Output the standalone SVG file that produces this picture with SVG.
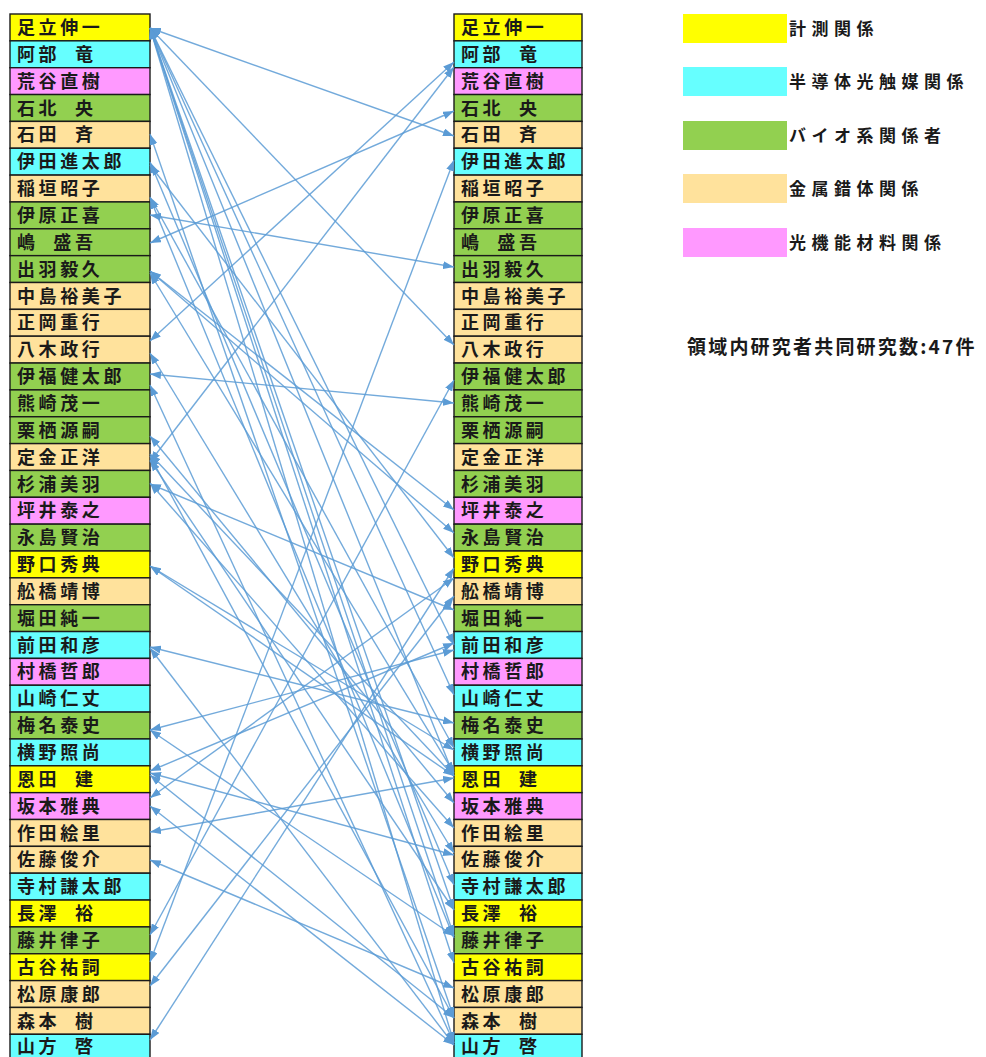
<svg xmlns="http://www.w3.org/2000/svg" width="986" height="1057" viewBox="0 0 986 1057">
<defs>
<style>
.row{stroke:#1a1a1a;stroke-width:1.4}
.y{fill:#FFFF00}.c{fill:#66FFFF}.p{fill:#FF99FF}.g{fill:#92D050}.o{fill:#FFE29C}
.nm{font-family:"Noto Sans CJK JP","Noto Sans CJK SC",sans-serif;font-size:18px;font-weight:bold;letter-spacing:3.6px;word-spacing:7px;fill:#1a1a1a}
.lg{font-family:"Noto Sans CJK JP","Noto Sans CJK SC",sans-serif;font-size:17px;font-weight:bold;letter-spacing:5.5px;fill:#1a1a1a}
.sm{font-family:"Noto Sans CJK JP","Noto Sans CJK SC",sans-serif;font-size:19px;font-weight:bold;letter-spacing:2.2px;fill:#1a1a1a}
.cn line{stroke:#5B9BD5;stroke-width:1.4;stroke-opacity:0.85;marker-start:url(#ah);marker-end:url(#ah)}
</style>
<marker id="ah" markerUnits="userSpaceOnUse" markerWidth="11" markerHeight="8" refX="11" refY="4" orient="auto-start-reverse"><path d="M0,0 L11,4 L0,8 z" fill="#5B9BD5"/></marker>
</defs>
<rect width="986" height="1057" fill="#fff"/>

<g id="left-column">
<g id="L01"><rect class="row y" x="10" y="14" width="140" height="26.85"/><text class="nm" x="17" y="34">足立伸一</text></g>
<g id="L02"><rect class="row c" x="10" y="40.85" width="140" height="26.85"/><text class="nm" x="17" y="60.9">阿部 竜</text></g>
<g id="L03"><rect class="row p" x="10" y="67.7" width="140" height="26.85"/><text class="nm" x="17" y="87.7">荒谷直樹</text></g>
<g id="L04"><rect class="row g" x="10" y="94.55" width="140" height="26.85"/><text class="nm" x="17" y="114.6">石北 央</text></g>
<g id="L05"><rect class="row o" x="10" y="121.4" width="140" height="26.85"/><text class="nm" x="17" y="141.4">石田 斉</text></g>
<g id="L06"><rect class="row c" x="10" y="148.25" width="140" height="26.85"/><text class="nm" x="17" y="168.3">伊田進太郎</text></g>
<g id="L07"><rect class="row o" x="10" y="175.1" width="140" height="26.85"/><text class="nm" x="17" y="195.1">稲垣昭子</text></g>
<g id="L08"><rect class="row g" x="10" y="201.95" width="140" height="26.85"/><text class="nm" x="17" y="222">伊原正喜</text></g>
<g id="L09"><rect class="row g" x="10" y="228.8" width="140" height="26.85"/><text class="nm" x="17" y="248.8">嶋 盛吾</text></g>
<g id="L10"><rect class="row g" x="10" y="255.65" width="140" height="26.85"/><text class="nm" x="17" y="275.7">出羽毅久</text></g>
<g id="L11"><rect class="row o" x="10" y="282.5" width="140" height="26.85"/><text class="nm" x="17" y="302.5">中島裕美子</text></g>
<g id="L12"><rect class="row o" x="10" y="309.35" width="140" height="26.85"/><text class="nm" x="17" y="329.4">正岡重行</text></g>
<g id="L13"><rect class="row o" x="10" y="336.2" width="140" height="26.85"/><text class="nm" x="17" y="356.2">八木政行</text></g>
<g id="L14"><rect class="row g" x="10" y="363.05" width="140" height="26.85"/><text class="nm" x="17" y="383.1">伊福健太郎</text></g>
<g id="L15"><rect class="row g" x="10" y="389.9" width="140" height="26.85"/><text class="nm" x="17" y="409.9">熊崎茂一</text></g>
<g id="L16"><rect class="row g" x="10" y="416.75" width="140" height="26.85"/><text class="nm" x="17" y="436.8">栗栖源嗣</text></g>
<g id="L17"><rect class="row o" x="10" y="443.6" width="140" height="26.85"/><text class="nm" x="17" y="463.6">定金正洋</text></g>
<g id="L18"><rect class="row g" x="10" y="470.45" width="140" height="26.85"/><text class="nm" x="17" y="490.5">杉浦美羽</text></g>
<g id="L19"><rect class="row p" x="10" y="497.3" width="140" height="26.85"/><text class="nm" x="17" y="517.3">坪井泰之</text></g>
<g id="L20"><rect class="row g" x="10" y="524.15" width="140" height="26.85"/><text class="nm" x="17" y="544.2">永島賢治</text></g>
<g id="L21"><rect class="row y" x="10" y="551" width="140" height="26.85"/><text class="nm" x="17" y="571">野口秀典</text></g>
<g id="L22"><rect class="row o" x="10" y="577.85" width="140" height="26.85"/><text class="nm" x="17" y="597.9">舩橋靖博</text></g>
<g id="L23"><rect class="row g" x="10" y="604.7" width="140" height="26.85"/><text class="nm" x="17" y="624.7">堀田純一</text></g>
<g id="L24"><rect class="row c" x="10" y="631.55" width="140" height="26.85"/><text class="nm" x="17" y="651.6">前田和彦</text></g>
<g id="L25"><rect class="row p" x="10" y="658.4" width="140" height="26.85"/><text class="nm" x="17" y="678.4">村橋哲郎</text></g>
<g id="L26"><rect class="row c" x="10" y="685.25" width="140" height="26.85"/><text class="nm" x="17" y="705.3">山崎仁丈</text></g>
<g id="L27"><rect class="row g" x="10" y="712.1" width="140" height="26.85"/><text class="nm" x="17" y="732.1">梅名泰史</text></g>
<g id="L28"><rect class="row c" x="10" y="738.95" width="140" height="26.85"/><text class="nm" x="17" y="759">横野照尚</text></g>
<g id="L29"><rect class="row y" x="10" y="765.8" width="140" height="26.85"/><text class="nm" x="17" y="785.8">恩田 建</text></g>
<g id="L30"><rect class="row p" x="10" y="792.65" width="140" height="26.85"/><text class="nm" x="17" y="812.7">坂本雅典</text></g>
<g id="L31"><rect class="row o" x="10" y="819.5" width="140" height="26.85"/><text class="nm" x="17" y="839.5">作田絵里</text></g>
<g id="L32"><rect class="row o" x="10" y="846.35" width="140" height="26.85"/><text class="nm" x="17" y="866.4">佐藤俊介</text></g>
<g id="L33"><rect class="row c" x="10" y="873.2" width="140" height="26.85"/><text class="nm" x="17" y="893.2">寺村謙太郎</text></g>
<g id="L34"><rect class="row y" x="10" y="900.05" width="140" height="26.85"/><text class="nm" x="17" y="920.1">長澤 裕</text></g>
<g id="L35"><rect class="row g" x="10" y="926.9" width="140" height="26.85"/><text class="nm" x="17" y="946.9">藤井律子</text></g>
<g id="L36"><rect class="row y" x="10" y="953.75" width="140" height="26.85"/><text class="nm" x="17" y="973.8">古谷祐詞</text></g>
<g id="L37"><rect class="row o" x="10" y="980.6" width="140" height="26.85"/><text class="nm" x="17" y="1000.6">松原康郎</text></g>
<g id="L38"><rect class="row o" x="10" y="1007.45" width="140" height="26.85"/><text class="nm" x="17" y="1027.5">森本 樹</text></g>
<g id="L39"><rect class="row c" x="10" y="1034.3" width="140" height="26.85"/><text class="nm" x="17" y="1052.5">山方 啓</text></g>
</g>

<g id="right-column">
<g id="R01"><rect class="row y" x="454" y="14" width="128" height="26.85"/><text class="nm" x="461" y="34">足立伸一</text></g>
<g id="R02"><rect class="row c" x="454" y="40.85" width="128" height="26.85"/><text class="nm" x="461" y="60.9">阿部 竜</text></g>
<g id="R03"><rect class="row p" x="454" y="67.7" width="128" height="26.85"/><text class="nm" x="461" y="87.7">荒谷直樹</text></g>
<g id="R04"><rect class="row g" x="454" y="94.55" width="128" height="26.85"/><text class="nm" x="461" y="114.6">石北 央</text></g>
<g id="R05"><rect class="row o" x="454" y="121.4" width="128" height="26.85"/><text class="nm" x="461" y="141.4">石田 斉</text></g>
<g id="R06"><rect class="row c" x="454" y="148.25" width="128" height="26.85"/><text class="nm" x="461" y="168.3">伊田進太郎</text></g>
<g id="R07"><rect class="row o" x="454" y="175.1" width="128" height="26.85"/><text class="nm" x="461" y="195.1">稲垣昭子</text></g>
<g id="R08"><rect class="row g" x="454" y="201.95" width="128" height="26.85"/><text class="nm" x="461" y="222">伊原正喜</text></g>
<g id="R09"><rect class="row g" x="454" y="228.8" width="128" height="26.85"/><text class="nm" x="461" y="248.8">嶋 盛吾</text></g>
<g id="R10"><rect class="row g" x="454" y="255.65" width="128" height="26.85"/><text class="nm" x="461" y="275.7">出羽毅久</text></g>
<g id="R11"><rect class="row o" x="454" y="282.5" width="128" height="26.85"/><text class="nm" x="461" y="302.5">中島裕美子</text></g>
<g id="R12"><rect class="row o" x="454" y="309.35" width="128" height="26.85"/><text class="nm" x="461" y="329.4">正岡重行</text></g>
<g id="R13"><rect class="row o" x="454" y="336.2" width="128" height="26.85"/><text class="nm" x="461" y="356.2">八木政行</text></g>
<g id="R14"><rect class="row g" x="454" y="363.05" width="128" height="26.85"/><text class="nm" x="461" y="383.1">伊福健太郎</text></g>
<g id="R15"><rect class="row g" x="454" y="389.9" width="128" height="26.85"/><text class="nm" x="461" y="409.9">熊崎茂一</text></g>
<g id="R16"><rect class="row g" x="454" y="416.75" width="128" height="26.85"/><text class="nm" x="461" y="436.8">栗栖源嗣</text></g>
<g id="R17"><rect class="row o" x="454" y="443.6" width="128" height="26.85"/><text class="nm" x="461" y="463.6">定金正洋</text></g>
<g id="R18"><rect class="row g" x="454" y="470.45" width="128" height="26.85"/><text class="nm" x="461" y="490.5">杉浦美羽</text></g>
<g id="R19"><rect class="row p" x="454" y="497.3" width="128" height="26.85"/><text class="nm" x="461" y="517.3">坪井泰之</text></g>
<g id="R20"><rect class="row g" x="454" y="524.15" width="128" height="26.85"/><text class="nm" x="461" y="544.2">永島賢治</text></g>
<g id="R21"><rect class="row y" x="454" y="551" width="128" height="26.85"/><text class="nm" x="461" y="571">野口秀典</text></g>
<g id="R22"><rect class="row o" x="454" y="577.85" width="128" height="26.85"/><text class="nm" x="461" y="597.9">舩橋靖博</text></g>
<g id="R23"><rect class="row g" x="454" y="604.7" width="128" height="26.85"/><text class="nm" x="461" y="624.7">堀田純一</text></g>
<g id="R24"><rect class="row c" x="454" y="631.55" width="128" height="26.85"/><text class="nm" x="461" y="651.6">前田和彦</text></g>
<g id="R25"><rect class="row p" x="454" y="658.4" width="128" height="26.85"/><text class="nm" x="461" y="678.4">村橋哲郎</text></g>
<g id="R26"><rect class="row c" x="454" y="685.25" width="128" height="26.85"/><text class="nm" x="461" y="705.3">山崎仁丈</text></g>
<g id="R27"><rect class="row g" x="454" y="712.1" width="128" height="26.85"/><text class="nm" x="461" y="732.1">梅名泰史</text></g>
<g id="R28"><rect class="row c" x="454" y="738.95" width="128" height="26.85"/><text class="nm" x="461" y="759">横野照尚</text></g>
<g id="R29"><rect class="row y" x="454" y="765.8" width="128" height="26.85"/><text class="nm" x="461" y="785.8">恩田 建</text></g>
<g id="R30"><rect class="row p" x="454" y="792.65" width="128" height="26.85"/><text class="nm" x="461" y="812.7">坂本雅典</text></g>
<g id="R31"><rect class="row o" x="454" y="819.5" width="128" height="26.85"/><text class="nm" x="461" y="839.5">作田絵里</text></g>
<g id="R32"><rect class="row o" x="454" y="846.35" width="128" height="26.85"/><text class="nm" x="461" y="866.4">佐藤俊介</text></g>
<g id="R33"><rect class="row c" x="454" y="873.2" width="128" height="26.85"/><text class="nm" x="461" y="893.2">寺村謙太郎</text></g>
<g id="R34"><rect class="row y" x="454" y="900.05" width="128" height="26.85"/><text class="nm" x="461" y="920.1">長澤 裕</text></g>
<g id="R35"><rect class="row g" x="454" y="926.9" width="128" height="26.85"/><text class="nm" x="461" y="946.9">藤井律子</text></g>
<g id="R36"><rect class="row y" x="454" y="953.75" width="128" height="26.85"/><text class="nm" x="461" y="973.8">古谷祐詞</text></g>
<g id="R37"><rect class="row o" x="454" y="980.6" width="128" height="26.85"/><text class="nm" x="461" y="1000.6">松原康郎</text></g>
<g id="R38"><rect class="row o" x="454" y="1007.45" width="128" height="26.85"/><text class="nm" x="461" y="1027.5">森本 樹</text></g>
<g id="R39"><rect class="row c" x="454" y="1034.3" width="128" height="26.85"/><text class="nm" x="461" y="1052.5">山方 啓</text></g>
</g>

<g id="legend">
<g id="lg1"><rect class="y" x="683" y="14" width="104" height="29"/><text class="lg" x="789" y="35">計測関係</text></g>
<g id="lg2"><rect class="c" x="683" y="67" width="104" height="29"/><text class="lg" x="789" y="88">半導体光触媒関係</text></g>
<g id="lg3"><rect class="g" x="683" y="121" width="104" height="29"/><text class="lg" x="789" y="142">バイオ系関係者</text></g>
<g id="lg4"><rect class="o" x="683" y="174" width="104" height="29"/><text class="lg" x="789" y="195">金属錯体関係</text></g>
<g id="lg5"><rect class="p" x="683" y="228" width="104" height="29"/><text class="lg" x="789" y="249">光機能材料関係</text></g>
<text id="summary" class="sm" x="687" y="354">領域内研究者共同研究数:47件</text>
</g>

<g id="connectors" class="cn">
<line x1="150" y1="28" x2="454" y2="136"/>
<line x1="150" y1="28" x2="454" y2="345"/>
<line x1="150" y1="28" x2="454" y2="645"/>
<line x1="150" y1="28" x2="454" y2="776"/>
<line x1="150" y1="28" x2="454" y2="695"/>
<line x1="150" y1="28" x2="454" y2="936"/>
<line x1="150" y1="28" x2="454" y2="963"/>
<line x1="150" y1="28" x2="454" y2="1043"/>
<line x1="150" y1="28" x2="454" y2="910"/>
<line x1="150" y1="134" x2="454" y2="1018"/>
<line x1="150" y1="162" x2="454" y2="885"/>
<line x1="150" y1="197" x2="454" y2="748"/>
<line x1="150" y1="215" x2="454" y2="267"/>
<line x1="150" y1="243" x2="454" y2="111"/>
<line x1="150" y1="271" x2="454" y2="510"/>
<line x1="150" y1="271" x2="454" y2="533"/>
<line x1="150" y1="273" x2="454" y2="773"/>
<line x1="150" y1="341" x2="454" y2="62"/>
<line x1="150" y1="353" x2="454" y2="853"/>
<line x1="150" y1="374" x2="454" y2="403"/>
<line x1="150" y1="385" x2="454" y2="1043"/>
<line x1="150" y1="436" x2="454" y2="803"/>
<line x1="150" y1="462" x2="454" y2="67"/>
<line x1="150" y1="454" x2="454" y2="776"/>
<line x1="150" y1="456" x2="454" y2="1018"/>
<line x1="150" y1="483" x2="454" y2="828"/>
<line x1="150" y1="566" x2="454" y2="750"/>
<line x1="150" y1="566" x2="454" y2="776"/>
<line x1="150" y1="647" x2="454" y2="723"/>
<line x1="150" y1="648" x2="454" y2="1045"/>
<line x1="150" y1="730" x2="454" y2="650"/>
<line x1="150" y1="730" x2="454" y2="936"/>
<line x1="150" y1="771" x2="454" y2="643"/>
<line x1="150" y1="773" x2="454" y2="855"/>
<line x1="150" y1="775" x2="454" y2="1018"/>
<line x1="150" y1="798" x2="454" y2="578"/>
<line x1="150" y1="806" x2="454" y2="1045"/>
<line x1="150" y1="832" x2="454" y2="778"/>
<line x1="150" y1="860" x2="454" y2="988"/>
<line x1="150" y1="935" x2="454" y2="380"/>
<line x1="150" y1="962" x2="454" y2="160"/>
<line x1="150" y1="986" x2="454" y2="596"/>
<line x1="150" y1="1040" x2="454" y2="568"/>
<line x1="150" y1="165" x2="454" y2="558"/>
<line x1="150" y1="484" x2="454" y2="610"/>
<line x1="150" y1="460" x2="454" y2="910"/>
<line x1="150" y1="198" x2="454" y2="938"/>
</g>
</svg>
